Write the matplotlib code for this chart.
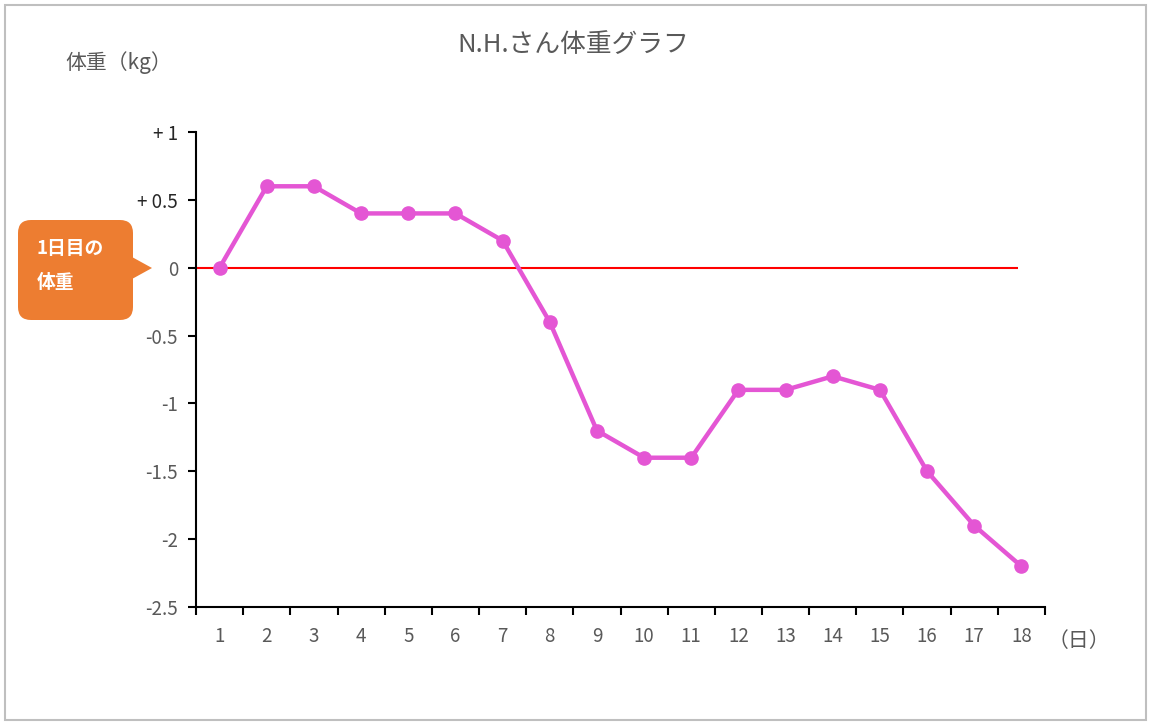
import matplotlib
matplotlib.use("Agg")
import matplotlib.pyplot as plt
import matplotlib.transforms as mtransforms
from matplotlib.patches import FancyBboxPatch, Polygon, Rectangle

plt.rcParams['font.family'] = ['Noto Sans CJK JP', 'DejaVu Sans']

days = list(range(1, 19))
weight_change = [0, 0.6, 0.6, 0.4, 0.4, 0.4, 0.2, -0.4, -1.2, -1.4, -1.4,
                 -0.9, -0.9, -0.8, -0.9, -1.5, -1.9, -2.2]
ytick_values = [1, 0.5, 0, -0.5, -1, -1.5, -2, -2.5]
ytick_labels = ['+ 1', '+ 0.5', '0', '-0.5', '-1', '-1.5', '-2', '-2.5']
title = 'N.H.さん体重グラフ'
ylabel = '体重（kg）'
xlabel = '（日）'
callout_lines = ['1日目の', '体重']

W, H = 1151, 726
fig = plt.figure(figsize=(W / 100, H / 100), dpi=100)
ax = fig.add_axes([196 / W, 1 - 607 / H, (1045 - 196) / W, (607 - 132) / H])

gray = '#595959'
ax.hlines(0, 0.5, 17.92, color='#FF0000', lw=1.5, zorder=2)
ax.plot(days, weight_change, color='#E456D4', lw=3.2, marker='o', ms=9.5,
        zorder=3, clip_on=False)

ax.set_xlim(0.5, 18.5)
ax.set_ylim(-2.5, 1)
ax.set_yticks(ytick_values)
ax.set_yticklabels(ytick_labels)
ax.set_xticks(days)
ax.set_xticklabels([str(d) for d in days])
ax.set_xticks([d + 0.5 for d in [0] + days], minor=True)
ax.tick_params(axis='x', which='major', length=0, pad=14, labelsize=13.5, labelcolor=gray)
ax.tick_params(axis='x', which='minor', length=6, width=1.5, direction='out', color='black')
ax.tick_params(axis='y', which='major', length=6, width=1.5, direction='out', pad=7,
               labelsize=13.5, labelcolor=gray)
for lab in ax.get_yticklabels():
    if lab.get_text().startswith('+'):
        lab.set_color('#262626')
for s in ['top', 'right']:
    ax.spines[s].set_visible(False)
for s in ['left', 'bottom']:
    ax.spines[s].set_linewidth(1.5)
    ax.spines[s].set_color('black')

# pixel transform (top-down)
pix = mtransforms.Affine2D().scale(1, -1).translate(0, H).scale(1 / W, 1 / H) + fig.transFigure

fig.patches.append(Rectangle((5, 5), 1141, 715, transform=pix, fill=False,
                             edgecolor='#BFBFBF', lw=1.5))
fig.text(573, 45, title, transform=pix, ha='center', va='center', fontsize=18.5, color=gray)
fig.text(65, 63, ylabel, transform=pix, ha='left', va='center', fontsize=15, color=gray)
fig.text(1048, 641, xlabel, transform=pix, ha='left', va='center', fontsize=15, color=gray)

orange = '#ED7D31'
fig.patches.append(FancyBboxPatch((18, 220), 115, 100,
                                  boxstyle='round,pad=0,rounding_size=13',
                                  transform=pix, facecolor=orange, edgecolor='none'))
fig.patches.append(Polygon([(132, 257), (152, 268), (132, 279)], closed=True,
                           transform=pix, facecolor=orange, edgecolor='none'))
fig.text(37, 248, callout_lines[0], transform=pix, ha='left', va='center',
         fontsize=13.5, color='white', fontweight='bold')
fig.text(37, 283, callout_lines[1], transform=pix, ha='left', va='center',
         fontsize=13.5, color='white', fontweight='bold')

fig.savefig('out.png', dpi=100, facecolor='white')
